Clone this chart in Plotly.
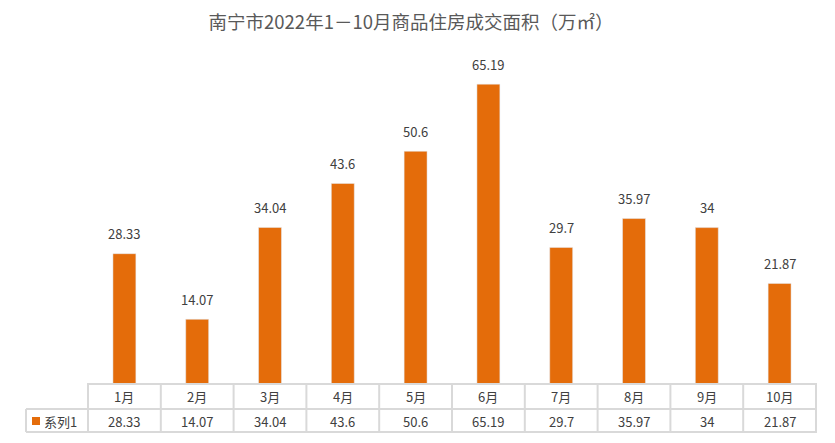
import plotly.graph_objects as go

months = ["1月", "2月", "3月", "4月", "5月", "6月", "7月", "8月", "9月", "10月"]
values = [28.33, 14.07, 34.04, 43.6, 50.6, 65.19, 29.7, 35.97, 34, 21.87]
value_labels = ["28.33", "14.07", "34.04", "43.6", "50.6", "65.19", "29.7", "35.97", "34", "21.87"]
series_name = "系列1"
title = "南宁市2022年1－10月商品住房成交面积（万㎡）"

W, H = 835, 443
OFF = 8  # page body margin compensation
L, R = 87 - OFF, 817 - OFF
BASE = 384 - OFF
TOP = 40 - OFF
ph = BASE - TOP

ORANGE = "#E46C0A"
GRID = "#D9D9D9"
TXT = "#404040"
FONT = "Noto Sans CJK SC, Noto Sans, sans-serif"

def py(y):
    return (BASE - (y - OFF)) / ph

def px(x):
    return ((x - OFF) - L) / (R - L)

fig = go.Figure(go.Bar(
    x=months, y=values, marker_color=ORANGE,
    hoverinfo="skip",
))

shapes = []
line = dict(color=GRID, width=2)
shapes.append(dict(type="line", xref="paper", yref="paper", x0=0, x1=1, y0=py(384), y1=py(384), line=line))
shapes.append(dict(type="line", xref="paper", yref="paper", x0=px(26), x1=1, y0=py(409), y1=py(409), line=line))
shapes.append(dict(type="line", xref="paper", yref="paper", x0=px(26), x1=1, y0=py(432), y1=py(432), line=line))
shapes.append(dict(type="line", xref="paper", yref="paper", x0=px(26), x1=px(26), y0=py(409), y1=py(432), line=line))
for k in range(len(months) + 1):
    shapes.append(dict(type="line", xref="x", yref="paper", x0=k - 0.5, x1=k - 0.5, y0=py(384), y1=py(432), line=line))
shapes.append(dict(type="rect", xref="paper", yref="paper", x0=px(32), x1=px(40), y0=py(417), y1=py(425),
                   fillcolor=ORANGE, line=dict(width=0)))

annotations = []
for m, v, lab in zip(months, values, value_labels):
    annotations.append(dict(x=m, xref="x", y=v, yref="y", text=lab, showarrow=False, yshift=20,
                            font=dict(size=13, color=TXT, family=FONT), xanchor="center", yanchor="middle"))
    annotations.append(dict(x=m, xref="x", y=py(396.5), yref="paper", text=m, showarrow=False,
                            font=dict(size=13, color=TXT, family=FONT), xanchor="center", yanchor="middle"))
    annotations.append(dict(x=m, xref="x", y=py(421), yref="paper", text=lab, showarrow=False,
                            font=dict(size=13, color=TXT, family=FONT), xanchor="center", yanchor="middle"))
annotations.append(dict(x=px(42), xref="paper", y=py(421), yref="paper", text=series_name, showarrow=False,
                        font=dict(size=13, color=TXT, family=FONT), xanchor="left", yanchor="middle"))

fig.update_layout(
    width=W, height=H,
    margin=dict(l=L, r=W - R, t=TOP, b=H - BASE),
    paper_bgcolor="white", plot_bgcolor="white",
    bargap=0.685,
    showlegend=False,
    title=dict(text=title, xref="container", yref="container", x=(411 - OFF) / W, y=1 - (23 - OFF) / H,
               xanchor="center", yanchor="middle",
               font=dict(size=18.5, color="#595959", family=FONT)),
    xaxis=dict(showticklabels=False, showgrid=False, zeroline=False, showline=False, ticks=""),
    yaxis=dict(range=[0, ph / 4.6], showticklabels=False, showgrid=False, zeroline=False, showline=False),
    shapes=shapes, annotations=annotations,
)

fig.write_html("out.html")
